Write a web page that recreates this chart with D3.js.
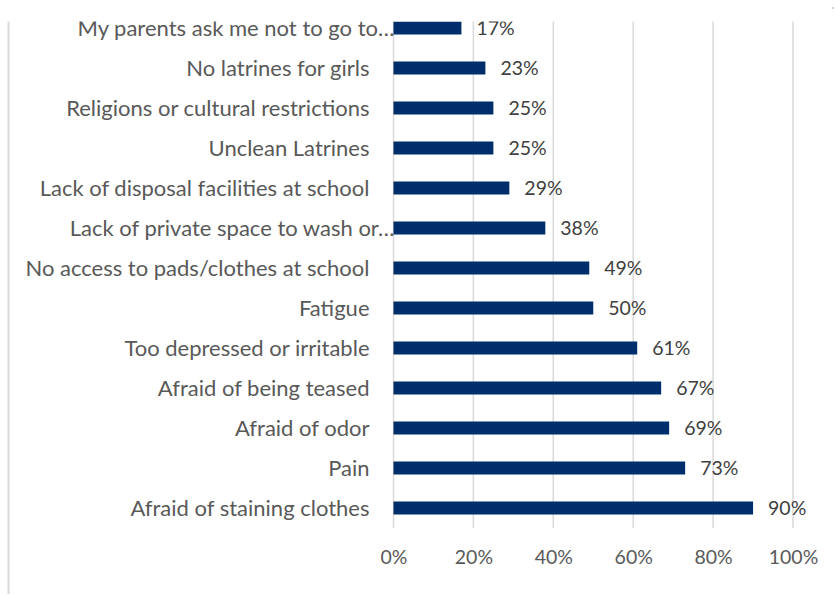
<!DOCTYPE html>
<html><head><meta charset="utf-8">
<script src="https://cdn.jsdelivr.net/npm/d3@7"></script>
<style>
html,body{margin:0;padding:0;background:#fff;}
svg{display:block;font-family:Lato, "Open Sans", sans-serif;}
</style></head>
<body><svg id="c" width="835" height="595"></svg>
<script>
const categories = [
  "My parents ask me not to go to\u2026",
  "No latrines for girls",
  "Religions or cultural restrictions",
  "Unclean Latrines",
  "Lack of disposal facilities at school",
  "Lack of private space to wash or\u2026",
  "No access to pads/clothes at school",
  "Fatigue",
  "Too depressed or irritable",
  "Afraid of being teased",
  "Afraid of odor",
  "Pain",
  "Afraid of staining clothes"
];
const values = [17, 23, 25, 25, 29, 38, 49, 50, 61, 67, 69, 73, 90];
const xTicks = [0, 20, 40, 60, 80, 100];

const svg = d3.select("#c");
const W = 835, H = 595;
svg.append("defs").append("clipPath").attr("id","clip")
  .append("rect").attr("x",0).attr("y",21.5).attr("width",W).attr("height",H-21.5);
const g = svg.append("g").attr("clip-path","url(#clip)");

const x = d3.scaleLinear().domain([0,100]).range([393.5, 793]);
const y = d3.scaleBand().domain(categories).range([8, 528]).paddingInner(0.675).paddingOuter(0.3375);

// left border
g.append("line").attr("x1",8.5).attr("x2",8.5).attr("y1",21).attr("y2",594)
  .attr("stroke","#d9d9d9").attr("stroke-width",2);

// gridlines
g.append("g").selectAll("line").data(xTicks).join("line")
  .attr("x1",d=>x(d)).attr("x2",d=>x(d)).attr("y1",8).attr("y2",528)
  .attr("stroke","#d9d9d9").attr("stroke-width",1.5);

// bars
g.append("g").selectAll("rect").data(values).join("rect")
  .attr("x",x(0)).attr("y",(d,i)=>y(categories[i]))
  .attr("width",d=>x(d)-x(0)).attr("height",y.bandwidth())
  .attr("fill","#002d6b");

// value labels
g.append("g").selectAll("text").data(values).join("text")
  .attr("x",d=>x(d)+15).attr("y",(d,i)=>y(categories[i])+y.bandwidth()/2)
  .attr("dy","0.36em").attr("fill","#404040").attr("font-size",19.5)
  .text(d=>d+"%");

// category labels
g.append("g").selectAll("text").data(categories).join("text")
  .attr("x",d=>d.endsWith("\u2026") ? x(0)+1 : x(0)-24)
  .attr("y",d=>y(d)+y.bandwidth()/2)
  .attr("dy","0.36em").attr("text-anchor","end").attr("fill","#595959").attr("font-size",22)
  .text(d=>d);

// x axis tick labels
const axis = d3.axisBottom(x).tickValues(xTicks).tickFormat(d=>d+"%").tickSize(0).tickPadding(0);
const ax = g.append("g").attr("transform","translate(0,557)").call(axis);
ax.select(".domain").remove();
ax.selectAll("text").attr("dy","0.36em").attr("fill","#595959").attr("font-size",19.5)
  .attr("font-family","Lato, 'Open Sans', sans-serif");

// small dot top right
svg.append("rect").attr("x",832).attr("y",7).attr("width",2).attr("height",2).attr("fill","#d0d0d0");
</script></body></html>
